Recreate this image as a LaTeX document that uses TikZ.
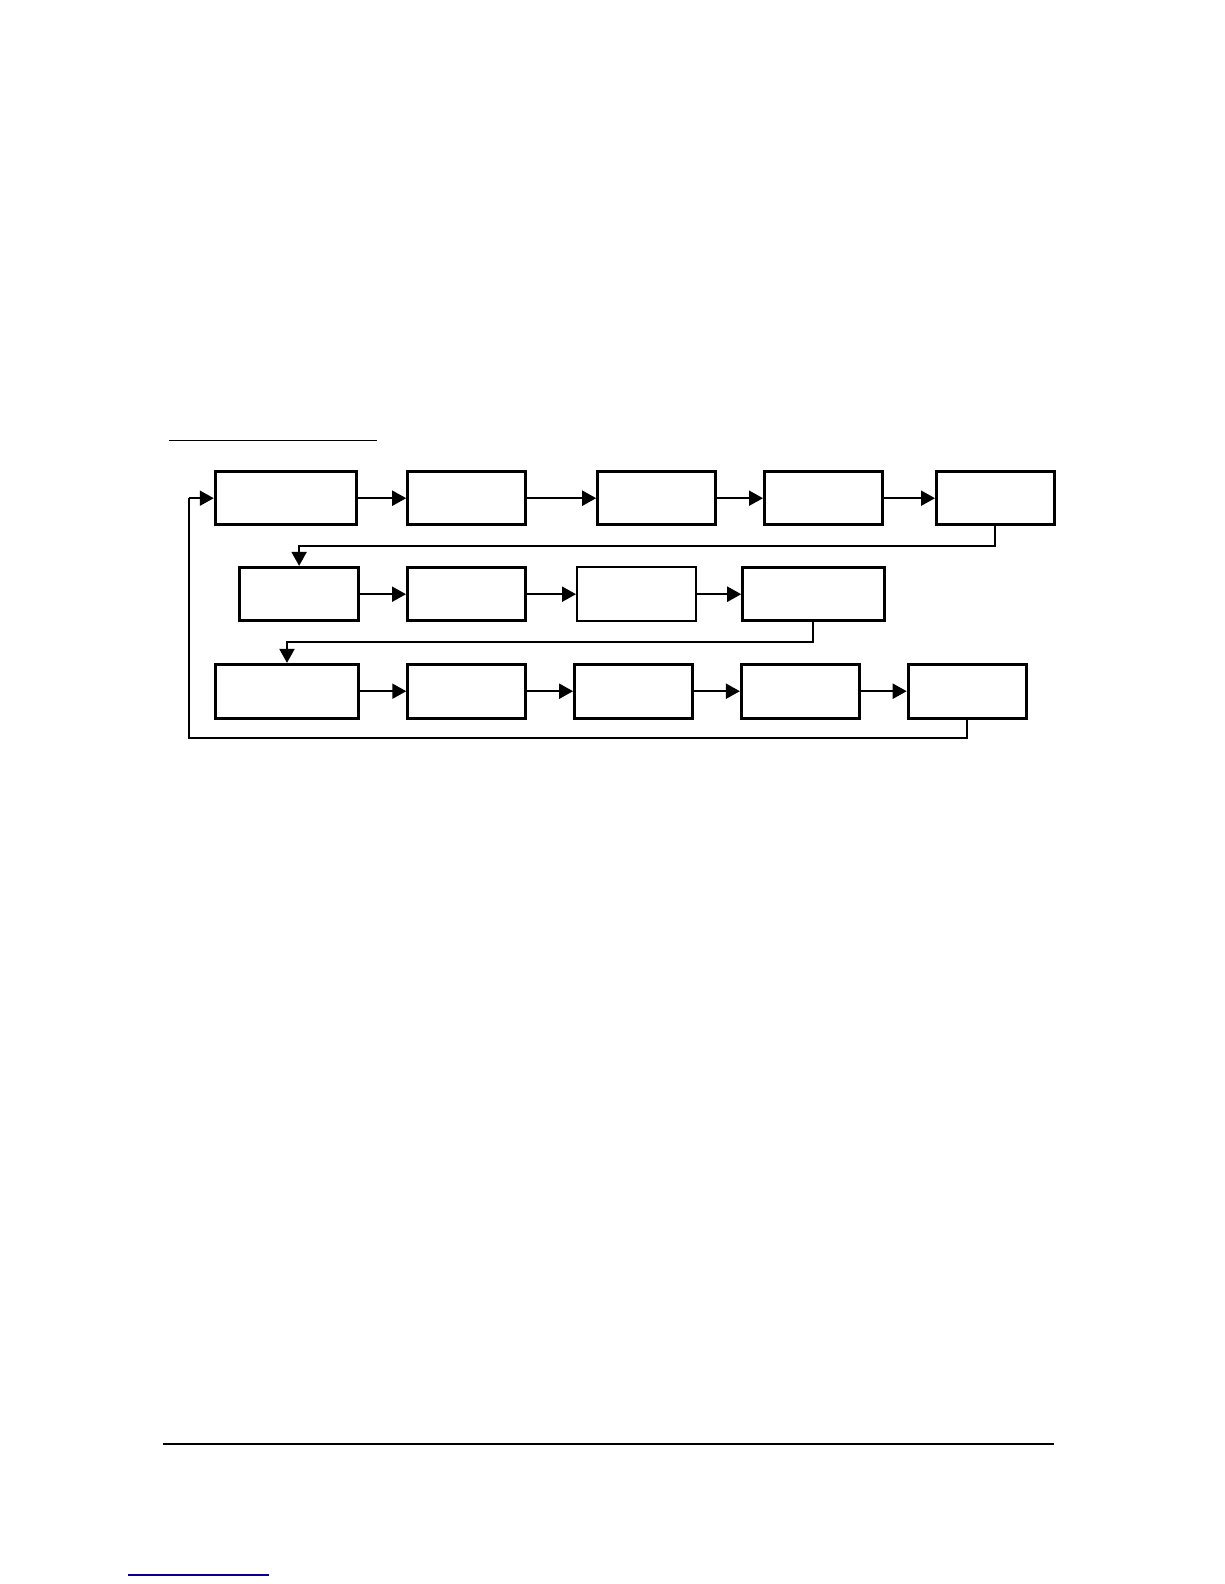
\documentclass[tikz,border=0pt]{standalone}
\usepackage{tikz}
\usetikzlibrary{positioning, arrows.meta}
\tikzset{
	blk/.style={draw, line width=1.5pt, minimum height=26.8pt, minimum width=58.9pt, inner sep=0pt},
	link/.style={line width=1pt, -{Triangle[length=7pt, width=7.5pt]}},
	back/.style={line width=1pt}
}

\begin{document}
\begin{tikzpicture}[x=0.50525pt, y=-0.50525pt]
	\useasboundingbox (0,0) rectangle (1211.4,1567.5);
	
	\node[blk, minimum width=70.7pt] (a1) at (283,493) {};
	\node[blk, right=24pt of a1] (a2) {};
	\node[blk, right=34.6pt of a2] (a3) {};
	\node[blk, right=23pt of a3] (a4) {};
	\node[blk, right=25.6pt of a4] (a5) {};
	
	\node[blk, minimum width=59.4pt] (b1) at (296,588) {};
	\node[blk, right=23pt of b1] (b2) {};
	\node[blk, right=24.6pt of b2, line width=1pt, minimum width=59.6pt] (b3) {};
	\node[blk, right=22pt of b3, minimum width=70.7pt] (b4) {};
	
	\node[blk, minimum width=71.8pt] (c1) at (284,684) {};
	\node[blk, right=23pt of c1] (c2) {};
	\node[blk, right=23pt of c2] (c3) {};
	\node[blk, right=23pt of c3] (c4) {};
	\node[blk, right=23pt of c4] (c5) {};
	
	\coordinate[left=12.6pt of a1.west] (ret);
	
	\draw[link] (a1) -- (a2);
	\draw[link] (a2) -- (a3);
	\draw[link] (a3) -- (a4);
	\draw[link] (a4) -- (a5);
	\draw[link] (a5.south) -- ++(0,19) -| (b1.north);
	
	\draw[link] (b1) -- (b2);
	\draw[link] (b2) -- (b3);
	\draw[link] (b3) -- (b4);
	\draw[link] (b4.south) -- ++(0,19) -| (c1.north);
	
	\draw[link] (c1) -- (c2);
	\draw[link] (c2) -- (c3);
	\draw[link] (c3) -- (c4);
	\draw[link] (c4) -- (c5);
	\draw[back] (c5.south) -- ++(0,18) -| (ret);
	\draw[link] (ret) -- (a1.west);
	
	\draw[line width=0.5pt] (167,436) -- (373,436);
	\draw[line width=0.7pt] (161,1429) -- (1043,1429);
	\draw[line width=0.75pt, blue!55!black] (127,1558.6) -- (266,1558.6);
\end{tikzpicture}
\end{document}
